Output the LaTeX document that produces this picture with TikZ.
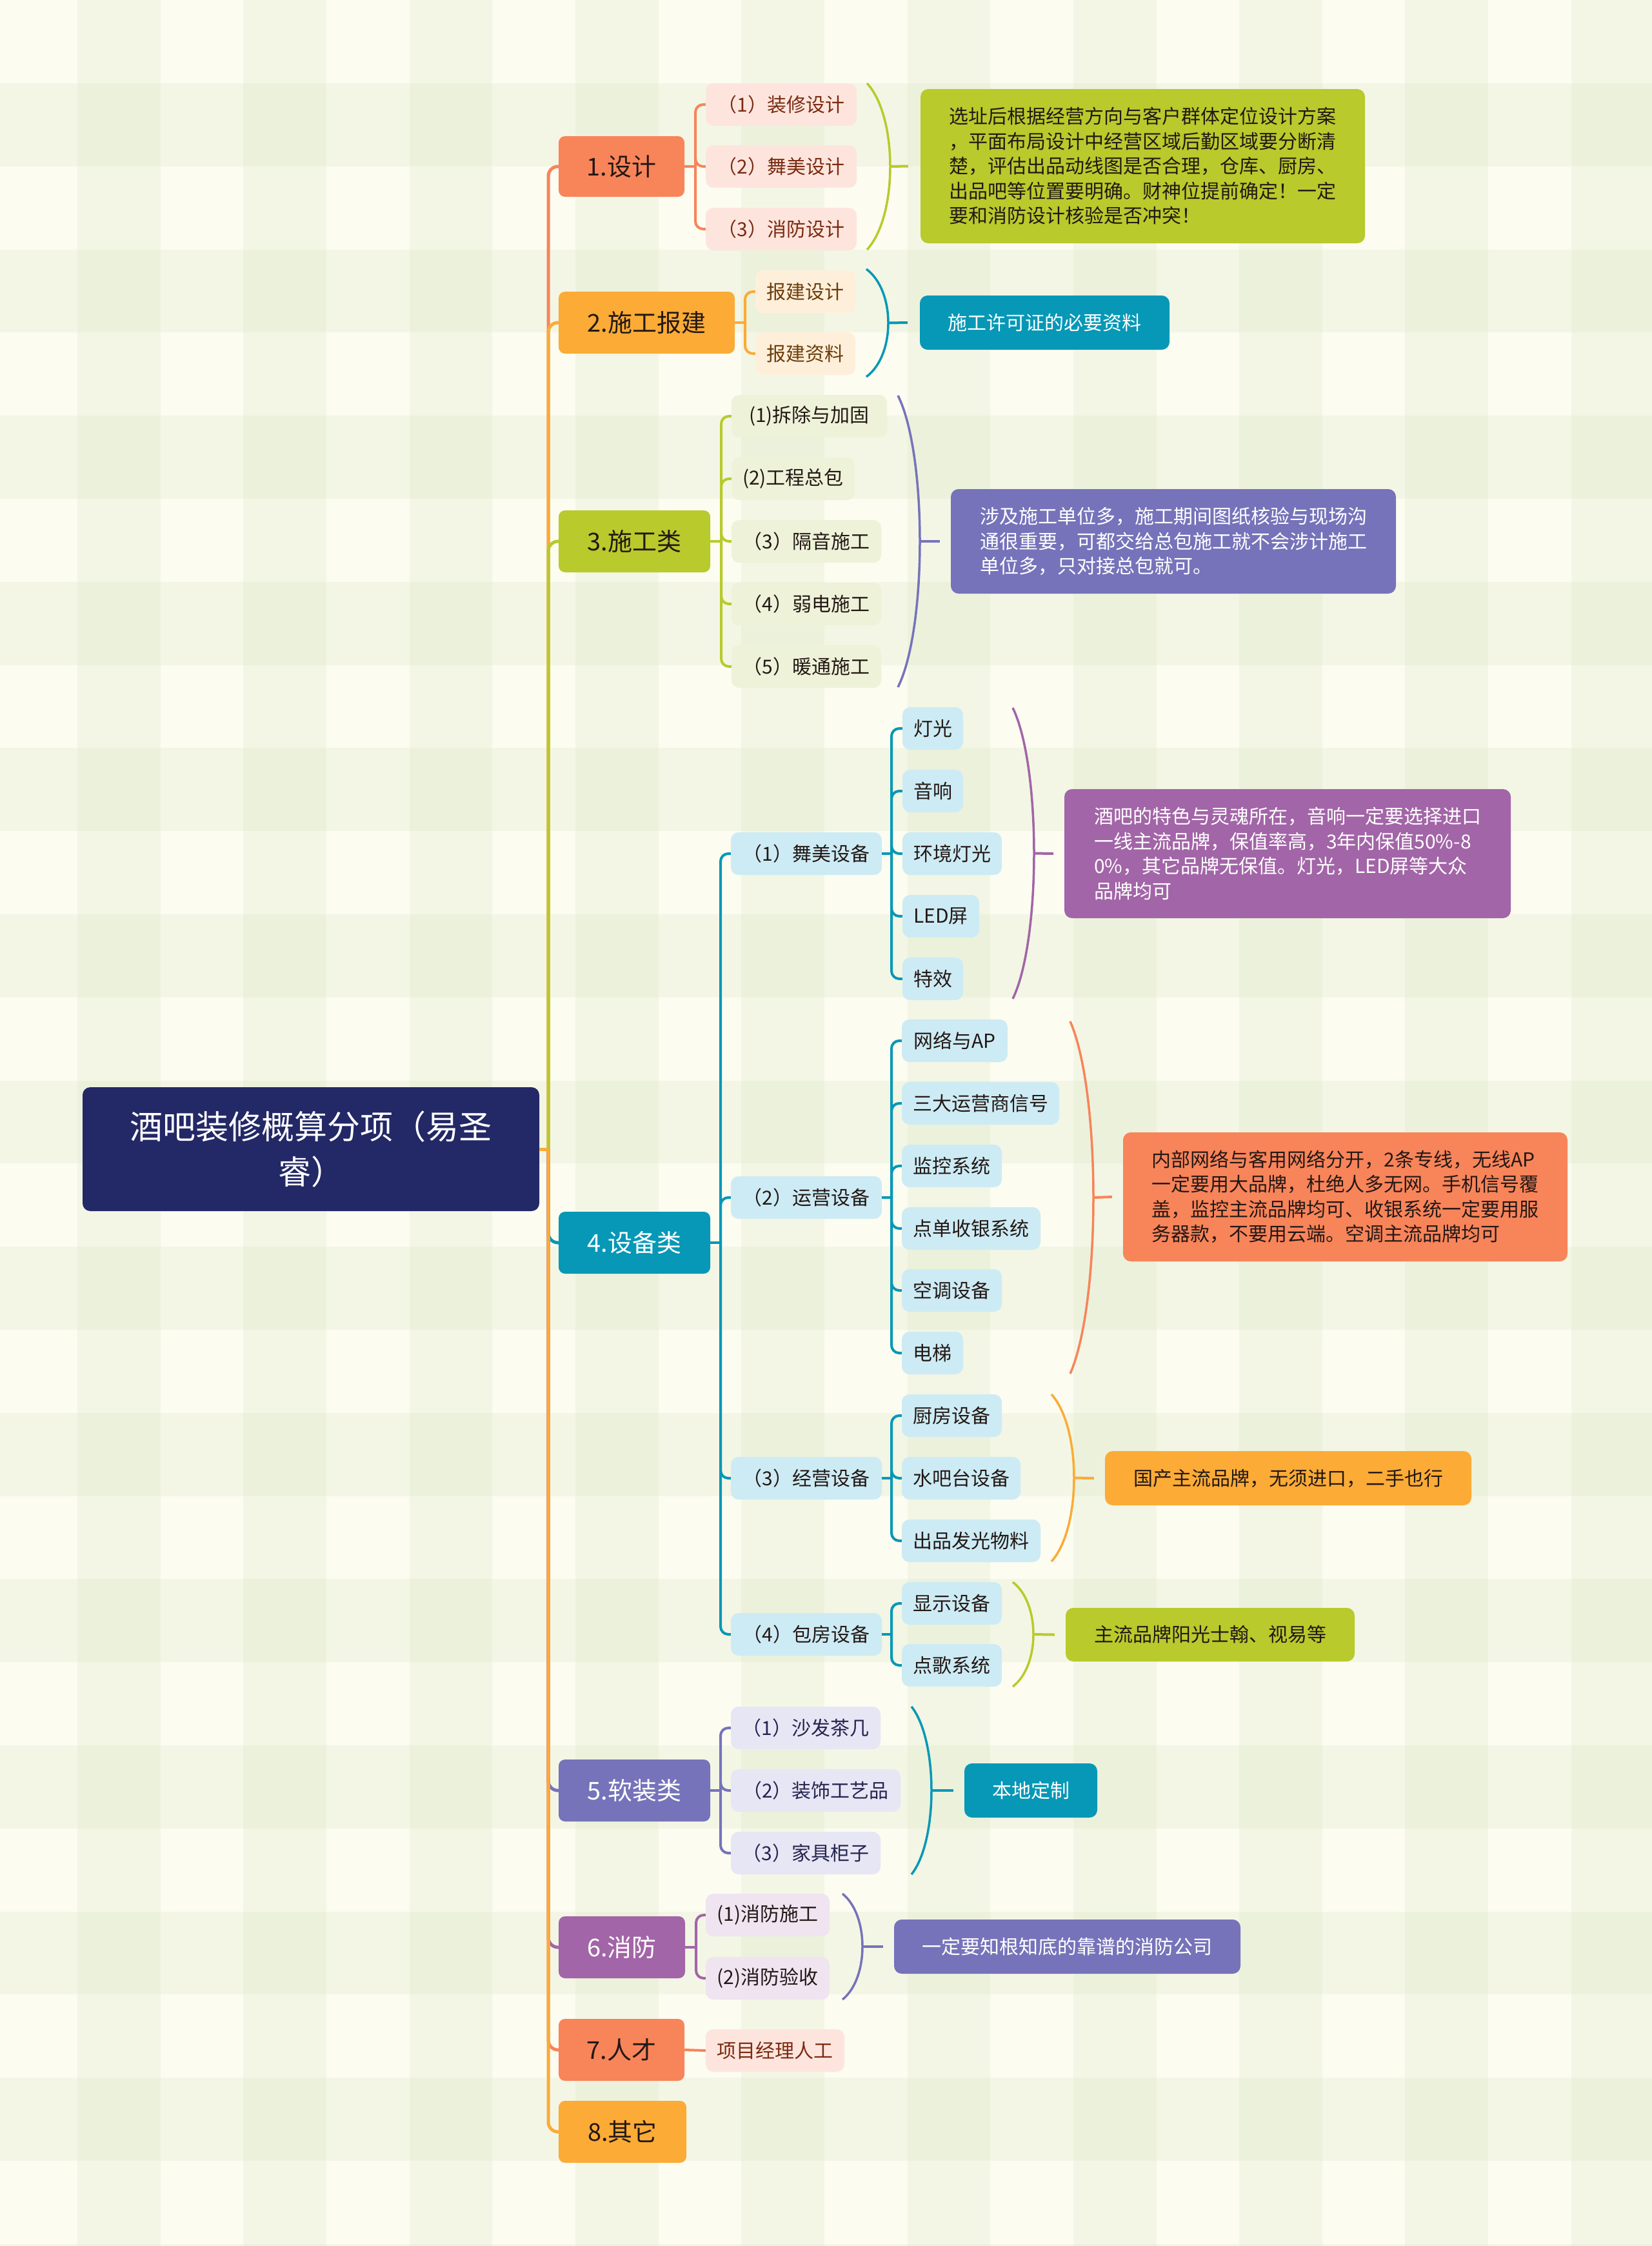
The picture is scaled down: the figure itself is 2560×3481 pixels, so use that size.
\documentclass[tikz,border=0pt]{standalone}
\usepackage{fontspec}
\setmainfont{Noto Sans CJK SC}
\definecolor{bgbase}{RGB}{252,252,241}
\definecolor{bgstripe}{RGB}{243,246,229}
\definecolor{bgcross}{RGB}{236,241,220}
\definecolor{coral}{HTML}{F8845A}
\definecolor{orng}{HTML}{FBAB36}
\definecolor{lime}{HTML}{B8CA2C}
\definecolor{teal}{HTML}{0698B6}
\definecolor{pblue}{HTML}{7673BA}
\definecolor{purp}{HTML}{A265A7}
\definecolor{navy}{HTML}{232866}
\definecolor{lpink}{HTML}{FDE5DE}
\definecolor{lorng}{HTML}{FEEFDB}
\definecolor{llime}{HTML}{EEF2D9}
\definecolor{lblue}{HTML}{CDEBF4}
\definecolor{llav}{HTML}{E6E6F5}
\definecolor{lpurp}{HTML}{EFE4F0}
\definecolor{darktxt}{HTML}{231815}
\definecolor{redbrown}{HTML}{7B2B10}
\definecolor{brown}{HTML}{6B3E0A}
\definecolor{navytxt}{HTML}{25254F}
\tikzset{
  lone/.style={rounded corners=10pt, inner sep=0pt, font=\fontsize{38}{46}\selectfont},
  ltwo/.style={rounded corners=12pt, inner sep=0pt, font=\fontsize{30}{38.5}\selectfont},
  summ/.style={rounded corners=12pt, inner sep=0pt, align=left, font=\fontsize{30}{38.5}\selectfont},
  cA/.style={line width=5pt, rounded corners=15pt},
  cB/.style={line width=4pt, rounded corners=12pt},
  brk/.style={line width=3.5pt}
}
\newcommand\bx[7]{\node[#1, minimum width={#4-#3}, minimum height={#6-#5}] (#2) at ({(#3+#4)/2},{(#5+#6)/2}) {#7};}
\newcommand\brk[6]{\draw[brk,#1] (#2,#3) .. controls ({#2+(#5-#2)*4/3},{#3+(#4-#3)*0.2}) and ({#2+(#5-#2)*4/3},{#4-(#4-#3)*0.2}) .. (#2,#4); \coordinate (#6) at (#5,{(#3+#4)/2});}
\begin{document}
\begin{tikzpicture}[x=1pt,y=-1pt]
\useasboundingbox (0,0) rectangle (2560,3481);
% background gingham
\fill[bgbase] (0,0) rectangle (2560,3481);
\foreach \i in {0,...,9} {\fill[bgstripe] ({120+257.3*\i},0) rectangle ({248.7+257.3*\i},3481);}
\foreach \j in {0,...,13} {\fill[bgstripe] (0,{129+257.6*\j}) rectangle (2560,{257.8+257.6*\j});}
\foreach \i in {0,...,9} {\foreach \j in {0,...,13} {\fill[bgcross] ({120+257.3*\i},{129+257.6*\j}) rectangle ({248.7+257.3*\i},{257.8+257.6*\j});}}

% root
\bx{fill=navy, text=white, rounded corners=12pt, inner sep=0pt, align=center, font=\fontsize{51}{70}\selectfont}{root}{128}{836}{1685}{1877}{酒吧装修概算分项（易圣\\睿）}

% level 1
\bx{lone, fill=coral, text=darktxt}{b1}{866}{1061}{211}{305}{1.设计}
\bx{lone, fill=orng, text=darktxt}{b2}{866}{1139}{452}{548}{2.施工报建}
\bx{lone, fill=lime, text=darktxt}{b3}{866}{1101}{791}{887}{3.施工类}
\bx{lone, fill=teal, text=white}{b4}{866}{1101}{1878}{1974}{4.设备类}
\bx{lone, fill=pblue, text=white}{b5}{866}{1101}{2727}{2823}{5.软装类}
\bx{lone, fill=purp, text=white}{b6}{866}{1062}{2970}{3066}{6.消防}
\bx{lone, fill=coral, text=darktxt}{b7}{866}{1061}{3129}{3225}{7.人才}
\bx{lone, fill=orng, text=darktxt}{b8}{866}{1064}{3256}{3352}{8.其它}

% trunk connectors
\coordinate (jr) at (850,1781);
\draw[cA, coral] (jr) |- (b1.west);
\draw[cA, orng] (jr) |- (b2.west);
\draw[cA, lime] (jr) |- (b3.west);
\draw[cA, teal] (jr) |- (b4.west);
\draw[cA, pblue] (jr) |- (b5.west);
\draw[cA, purp] (jr) |- (b6.west);
\draw[cA, coral] (jr) |- (b7.west);
\draw[cA, orng] (jr) |- (b8.west);
\draw[line width=5pt, orng] (root.east) -- (jr);

% ---- branch 1
\bx{ltwo, fill=lpink, text=redbrown}{c11}{1094}{1328}{129}{195}{（1）装修设计}
\bx{ltwo, fill=lpink, text=redbrown}{c12}{1094}{1328}{225}{291}{（2）舞美设计}
\bx{ltwo, fill=lpink, text=redbrown}{c13}{1094}{1328}{322}{388}{（3）消防设计}
\coordinate (j1) at (1078,258);
\draw[cB, coral] (b1.east) -- (j1);
\foreach \c in {c11,c12,c13} {\draw[cB, coral] (j1) |- (\c.west);}
\bx{summ, fill=lime, text=darktxt}{s1}{1427}{2116}{138}{377}{选址后根据经营方向与客户群体定位设计方案\\，平面布局设计中经营区域后勤区域要分断清\\楚，评估出品动线图是否合理，仓库、厨房、\\出品吧等位置要明确。财神位提前确定！一定\\要和消防设计核验是否冲突！}
\brk{lime}{1344}{129}{387}{1380}{m1}
\draw[cB, lime] (m1) -- ([xshift=-19pt]s1.west);

% ---- branch 2
\bx{ltwo, fill=lorng, text=brown}{c21}{1171}{1326}{419}{485}{报建设计}
\bx{ltwo, fill=lorng, text=brown}{c22}{1171}{1326}{515}{581}{报建资料}
\coordinate (j2) at (1155,500);
\draw[cB, orng] (b2.east) -- (j2);
\foreach \c in {c21,c22} {\draw[cB, orng] (j2) |- (\c.west);}
\bx{summ, fill=teal, text=white}{s2}{1426}{1813}{458}{542}{施工许可证的必要资料}
\brk{teal}{1343}{417}{584}{1377}{m2}
\draw[cB, teal] (m2) -- ([xshift=-19pt]s2.west);

% ---- branch 3
\bx{ltwo, fill=llime, text=darktxt}{c31}{1134}{1375}{612}{678}{(1)拆除与加固}
\bx{ltwo, fill=llime, text=darktxt}{c32}{1134}{1325}{709}{775}{(2)工程总包}
\bx{ltwo, fill=llime, text=darktxt}{c33}{1134}{1366}{806}{872}{（3）隔音施工}
\bx{ltwo, fill=llime, text=darktxt}{c34}{1134}{1366}{903}{969}{（4）弱电施工}
\bx{ltwo, fill=llime, text=darktxt}{c35}{1134}{1366}{1000}{1066}{（5）暖通施工}
\coordinate (j3) at (1118,839);
\draw[cB, lime] (b3.east) -- (j3);
\foreach \c in {c31,c32,c33,c34,c35} {\draw[cB, lime] (j3) |- (\c.west);}
\bx{summ, fill=pblue, text=white}{s3}{1474}{2164}{758}{920}{涉及施工单位多，施工期间图纸核验与现场沟\\通很重要，可都交给总包施工就不会涉计施工\\单位多，只对接总包就可。}
\brk{pblue}{1392}{613}{1065}{1426}{m3}
\draw[cB, pblue] (m3) -- ([xshift=-17pt]s3.west);

% ---- branch 4
\bx{ltwo, fill=lblue, text=darktxt}{c41}{1133}{1367}{1290}{1356}{（1）舞美设备}
\bx{ltwo, fill=lblue, text=darktxt}{c42}{1133}{1367}{1823}{1889}{（2）运营设备}
\bx{ltwo, fill=lblue, text=darktxt}{c43}{1133}{1367}{2258}{2324}{（3）经营设备}
\bx{ltwo, fill=lblue, text=darktxt}{c44}{1133}{1367}{2500}{2566}{（4）包房设备}
\coordinate (j4) at (1117,1926);
\draw[cB, teal] (b4.east) -- (j4);
\foreach \c in {c41,c42,c43,c44} {\draw[cB, teal] (j4) |- (\c.west);}

% (1) stage equipment
\bx{ltwo, fill=lblue, text=darktxt}{d1}{1399}{1493}{1096}{1162}{灯光}
\bx{ltwo, fill=lblue, text=darktxt}{d2}{1399}{1493}{1193}{1259}{音响}
\bx{ltwo, fill=lblue, text=darktxt}{d3}{1399}{1553}{1290}{1356}{环境灯光}
\bx{ltwo, fill=lblue, text=darktxt}{d4}{1399}{1518}{1387}{1453}{LED屏}
\bx{ltwo, fill=lblue, text=darktxt}{d5}{1399}{1493}{1484}{1550}{特效}
\coordinate (k1) at (1382,1323);
\draw[cB, teal] (c41.east) -- (k1);
\foreach \c in {d1,d2,d3,d4,d5} {\draw[cB, teal] (k1) |- (\c.west);}
\bx{summ, fill=purp, text=white}{s41}{1650}{2342}{1223}{1423}{酒吧的特色与灵魂所在，音响一定要选择进口\\一线主流品牌，保值率高，3年内保值50\%-8\\0\%，其它品牌无保值。灯光，LED屏等大众\\品牌均可}
\brk{purp}{1570}{1097}{1548}{1603}{m41}
\draw[cB, purp] (m41) -- ([xshift=-17pt]s41.west);

% (2) operation equipment
\bx{ltwo, fill=lblue, text=darktxt}{e1}{1398}{1562}{1580}{1646}{网络与AP}
\bx{ltwo, fill=lblue, text=darktxt}{e2}{1398}{1642}{1677}{1743}{三大运营商信号}
\bx{ltwo, fill=lblue, text=darktxt}{e3}{1398}{1553}{1774}{1840}{监控系统}
\bx{ltwo, fill=lblue, text=darktxt}{e4}{1398}{1613}{1871}{1937}{点单收银系统}
\bx{ltwo, fill=lblue, text=darktxt}{e5}{1398}{1553}{1967}{2033}{空调设备}
\bx{ltwo, fill=lblue, text=darktxt}{e6}{1398}{1493}{2064}{2130}{电梯}
\coordinate (k2) at (1382,1856);
\draw[cB, teal] (c42.east) -- (k2);
\foreach \c in {e1,e2,e3,e4,e5,e6} {\draw[cB, teal] (k2) |- (\c.west);}
\bx{summ, fill=coral, text=darktxt}{s42}{1741}{2430}{1755}{1955}{内部网络与客用网络分开，2条专线，无线AP\\一定要用大品牌，杜绝人多无网。手机信号覆\\盖，监控主流品牌均可、收银系统一定要用服\\务器款，不要用云端。空调主流品牌均可}
\brk{coral}{1659}{1583}{2129}{1695}{m42}
\draw[cB, coral] (m42) -- ([xshift=-17pt]s42.west);

% (3) business equipment
\bx{ltwo, fill=lblue, text=darktxt}{f1}{1398}{1553}{2161}{2227}{厨房设备}
\bx{ltwo, fill=lblue, text=darktxt}{f2}{1398}{1582}{2258}{2324}{水吧台设备}
\bx{ltwo, fill=lblue, text=darktxt}{f3}{1398}{1613}{2355}{2421}{出品发光物料}
\coordinate (k3) at (1382,2291);
\draw[cB, teal] (c43.east) -- (k3);
\foreach \c in {f1,f2,f3} {\draw[cB, teal] (k3) |- (\c.west);}
\bx{summ, fill=orng, text=darktxt}{s43}{1713}{2281}{2249}{2333}{国产主流品牌，无须进口，二手也行}
\brk{orng}{1630}{2161}{2420}{1665}{m43}
\draw[cB, orng] (m43) -- ([xshift=-17pt]s43.west);

% (4) room equipment
\bx{ltwo, fill=lblue, text=darktxt}{g1}{1398}{1553}{2452}{2518}{显示设备}
\bx{ltwo, fill=lblue, text=darktxt}{g2}{1398}{1553}{2548}{2614}{点歌系统}
\coordinate (k4) at (1382,2533);
\draw[cB, teal] (c44.east) -- (k4);
\foreach \c in {g1,g2} {\draw[cB, teal] (k4) |- (\c.west);}
\bx{summ, fill=lime, text=darktxt}{s44}{1652}{2100}{2492}{2575}{主流品牌阳光士翰、视易等}
\brk{lime}{1570}{2452}{2614}{1602}{m44}
\draw[cB, lime] (m44) -- ([xshift=-17pt]s44.west);

% ---- branch 5
\bx{ltwo, fill=llav, text=navytxt}{h1}{1133}{1365}{2645}{2711}{（1）沙发茶几}
\bx{ltwo, fill=llav, text=navytxt}{h2}{1133}{1396}{2742}{2808}{（2）装饰工艺品}
\bx{ltwo, fill=llav, text=navytxt}{h3}{1133}{1365}{2839}{2905}{（3）家具柜子}
\coordinate (j5) at (1117,2775);
\draw[cB, pblue] (b5.east) -- (j5);
\foreach \c in {h1,h2,h3} {\draw[cB, pblue] (j5) |- (\c.west);}
\bx{summ, fill=teal, text=white}{s5}{1495}{1701}{2733}{2817}{本地定制}
\brk{teal}{1413}{2645}{2905}{1444}{m5}
\draw[cB, teal] (m5) -- ([xshift=-17pt]s5.west);

% ---- branch 6
\bx{ltwo, fill=lpurp, text=darktxt}{i1}{1094}{1286}{2935}{3001}{(1)消防施工}
\bx{ltwo, fill=lpurp, text=darktxt}{i2}{1094}{1286}{3033}{3099}{(2)消防验收}
\coordinate (j6) at (1079,3018);
\draw[cB, purp] (b6.east) -- (j6);
\foreach \c in {i1,i2} {\draw[cB, purp] (j6) |- (\c.west);}
\bx{summ, fill=pblue, text=white}{s6}{1386}{1923}{2975}{3059}{一定要知根知底的靠谱的消防公司}
\brk{pblue}{1306}{2935}{3099}{1337}{m6}
\draw[cB, pblue] (m6) -- ([xshift=-17pt]s6.west);

% ---- branch 7
\bx{ltwo, fill=lpink, text=redbrown}{l1}{1094}{1309}{3145}{3211}{项目经理人工}
\draw[cB, coral] (b7.east) -- (l1.west);
\end{tikzpicture}
\end{document}
